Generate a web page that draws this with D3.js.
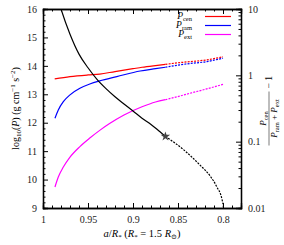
<!DOCTYPE html>
<html><head><meta charset="utf-8">
<script src="https://cdn.jsdelivr.net/npm/d3@7"></script>
<style>
body{margin:0;background:#fff;}
svg{display:block;font-family:"Liberation Serif","DejaVu Serif",serif;}
.axis path,.axis line{stroke:#000;}
.axis text{font-family:"Liberation Serif",serif;font-size:10px;fill:#222;}
</style></head><body>
<svg id="c" width="284" height="245"></svg>
<script>
// ---- data ----
const aCen = [0.987,0.97,0.95,0.937,0.92,0.90,0.89,0.875,0.864];
const pCen = [13.54,13.62,13.68,13.71,13.80,13.90,13.95,14.01,14.05];
const aCenD = [0.864,0.855,0.84,0.818,0.80];
const pCenD = [14.05,14.09,14.14,14.21,14.32];

const aRam = [0.9867,0.983,0.9774,0.97,0.959,0.948,0.937,0.918,0.892,0.875,0.864];
const pRam = [12.16,12.45,12.74,12.98,13.21,13.36,13.47,13.62,13.82,13.90,13.95];
const aRamD = [0.864,0.855,0.84,0.818,0.80];
const pRamD = [13.95,14.00,14.07,14.15,14.27];

const aExt = [0.9867,0.983,0.9774,0.97,0.959,0.948,0.937,0.926,0.91,0.89,0.875,0.864];
const pExt = [9.74,10.09,10.44,10.79,11.16,11.46,11.73,11.97,12.27,12.56,12.73,12.81];
const aExtD = [0.864,0.855,0.835,0.818,0.80];
const pExtD = [12.81,12.88,13.05,13.19,13.35];

const aRat = [0.983,0.98,0.97,0.96,0.95,0.94,0.93,0.92,0.91,0.90,0.89,0.88,0.87,0.864];
const vRat = [13.5,10,4.17,2.09,1.3,0.87,0.63,0.475,0.37,0.29,0.226,0.182,0.141,0.12];
const aRatD = [0.864,0.844,0.826,0.814,0.807,0.801,0.7997,0.7993];
const vRatD = [0.12,0.076,0.045,0.030,0.021,0.0133,0.0107,0.0095];

const starA = 0.864, starV = 0.12;

const xMajor = [1,0.95,0.9,0.85,0.8];
const xLabels = ["1","0.95","0.9","0.85","0.8"];
const yMajor = [9,10,11,12,13,14,15,16];
const rMajor = [0.01,0.1,1,10];
const rLabels = ["0.01","0.1","1","10"];

// ---- layout ----
const svg = d3.select("#c");
const L=43, R=241, T=9, B=208;
const x = d3.scaleLinear().domain([1,0.78]).range([L,R]);
const y = d3.scaleLinear().domain([9,16]).range([B,T]);
const yr = d3.scaleLog().domain([0.01,10]).range([B,T]);

svg.append("defs").append("clipPath").attr("id","clip")
  .append("rect").attr("x",L).attr("y",T).attr("width",R-L).attr("height",B-T);

const minorX = d3.range(0,23).map(i=>+(1-i*0.01).toFixed(2)).filter(v=>v>=0.78 && !xMajor.some(m=>Math.abs(m-v)<1e-9));
const minorY = d3.range(9,16.001,0.2).map(v=>+v.toFixed(1)).filter(v=>!yMajor.includes(v));
const minorR = [];
[0.01,0.1,1].forEach(d=>{for(let k=2;k<=9;k++) minorR.push(d*k);});

function ax(gen, tr){ return svg.append("g").attr("class","axis").attr("transform",tr).call(gen); }
// minor ticks
ax(d3.axisBottom(x).tickValues(minorX).tickSize(-2.5).tickFormat(""), `translate(0,${B})`);
ax(d3.axisTop(x).tickValues(minorX).tickSize(-2.5).tickFormat(""), `translate(0,${T})`);
ax(d3.axisLeft(y).tickValues(minorY).tickSize(-2.5).tickFormat(""), `translate(${L},0)`);
ax(d3.axisRight(yr).tickValues(minorR).tickSize(-2.5).tickFormat(""), `translate(${R},0)`);
// major ticks
ax(d3.axisBottom(x).tickValues(xMajor).tickSize(-5).tickPadding(8).tickFormat((d,i)=>xLabels[i]), `translate(0,${B})`);
ax(d3.axisTop(x).tickValues(xMajor).tickSize(-5).tickFormat(""), `translate(0,${T})`);
ax(d3.axisLeft(y).tickValues(yMajor).tickSize(-5).tickPadding(6).tickFormat(d3.format("d")), `translate(${L},0)`);
ax(d3.axisRight(yr).tickValues(rMajor).tickSize(-5).tickPadding(7).tickFormat((d,i)=>rLabels[i]), `translate(${R},0)`);
svg.selectAll(".axis path.domain").attr("stroke-width",1.3);

const g = svg.append("g").attr("clip-path","url(#clip)");
const lineL = d3.line().x(d=>x(d[0])).y(d=>y(d[1])).curve(d3.curveMonotoneX);
const lineR = d3.line().x(d=>x(d[0])).y(d=>yr(d[1])).curve(d3.curveMonotoneX);
function draw(xs, ys, gen, color, dashed){
  g.append("path").datum(d3.zip(xs,ys)).attr("d",gen).attr("fill","none")
   .attr("stroke",color).attr("stroke-width",1.2)
   .attr("stroke-dasharray",dashed?"2,1.2":null);
}
draw(aCen,pCen,lineL,"#ff0000",false); draw(aCenD,pCenD,lineL,"#ff0000",true);
draw(aRam,pRam,lineL,"#0000ff",false); draw(aRamD,pRamD,lineL,"#0000ff",true);
draw(aExt,pExt,lineL,"#ff00ff",false); draw(aExtD,pExtD,lineL,"#ff00ff",true);
draw(aRat,vRat,lineR,"#000",false); draw(aRatD,vRatD,lineR,"#000",true);
g.append("path").attr("d",d3.symbol(d3.symbolStar,28)())
 .attr("transform",`translate(${x(starA)},${yr(starV)})`).attr("fill","#444");

// legend
const leg = [["cen","#ff0000"],["ram","#0000ff"],["ext","#ff00ff"]];
leg.forEach((d,i)=>{
  const yy = 16.5 + i*9;
  const t = svg.append("text").attr("x",192).attr("y",yy+2.5).attr("text-anchor","end")
    .style("font-size","9.5px");
  t.append("tspan").style("font-style","italic").text("P");
  t.append("tspan").attr("dy",1.5).style("font-size","6.5px").text(d[0]);
  svg.append("line").attr("x1",205).attr("x2",231).attr("y1",yy).attr("y2",yy)
    .attr("stroke",d[1]).attr("stroke-width",1.2);
});

// x label
const xl = svg.append("text").attr("x",142).attr("y",237).attr("text-anchor","middle").style("font-size","10.5px");
xl.append("tspan").style("font-style","italic").text("a");
xl.append("tspan").text("/");
xl.append("tspan").style("font-style","italic").text("R");
xl.append("tspan").attr("dy",2).style("font-size","7px").text("*");
xl.append("tspan").attr("dy",-2).text(" (");
xl.append("tspan").style("font-style","italic").text("R");
xl.append("tspan").attr("dy",2).style("font-size","7px").text("*");
xl.append("tspan").attr("dy",-2).text(" = 1.5 ");
xl.append("tspan").style("font-style","italic").text("R");
xl.append("tspan").attr("dy",2).style("font-size","7px").text("⊙");
xl.append("tspan").attr("dy",-2).text(")");

// left y label
const yl = svg.append("text").attr("transform",`translate(19,${(T+B)/2}) rotate(-90)`)
  .attr("text-anchor","middle").style("font-size","10px");
yl.append("tspan").text("log");
yl.append("tspan").attr("dy",2).style("font-size","7px").text("10");
yl.append("tspan").attr("dy",-2).text("(");
yl.append("tspan").style("font-style","italic").text("P");
yl.append("tspan").text(") (g cm");
yl.append("tspan").attr("dy",-4).style("font-size","7px").text("−1");
yl.append("tspan").attr("dy",4).text(" s");
yl.append("tspan").attr("dy",-4).style("font-size","7px").text("−2");
yl.append("tspan").attr("dy",4).text(")");

// right y label (fraction)
const rg = svg.append("g").attr("transform",`translate(269,${(T+B)/2}) rotate(-90)`);
const num = rg.append("text").attr("x",-10).attr("y",-3).attr("text-anchor","middle").style("font-size","9px");
num.append("tspan").style("font-style","italic").text("P");
num.append("tspan").attr("dy",1.5).style("font-size","6.5px").text("cen");
rg.append("line").attr("x1",-37).attr("x2",17).attr("y1",0).attr("y2",0).attr("stroke","#222").attr("stroke-width",0.6);
const den = rg.append("text").attr("x",-10).attr("y",8).attr("text-anchor","middle").style("font-size","9px");
den.append("tspan").style("font-style","italic").text("P");
den.append("tspan").attr("dy",1.5).style("font-size","6.5px").text("ram");
den.append("tspan").attr("dy",-1.5).text(" + ");
den.append("tspan").style("font-style","italic").text("P");
den.append("tspan").attr("dy",1.5).style("font-size","6.5px").text("ext");
rg.append("text").attr("x",20).attr("y",3).style("font-size","9.5px").text("− 1");
</script></body></html>
